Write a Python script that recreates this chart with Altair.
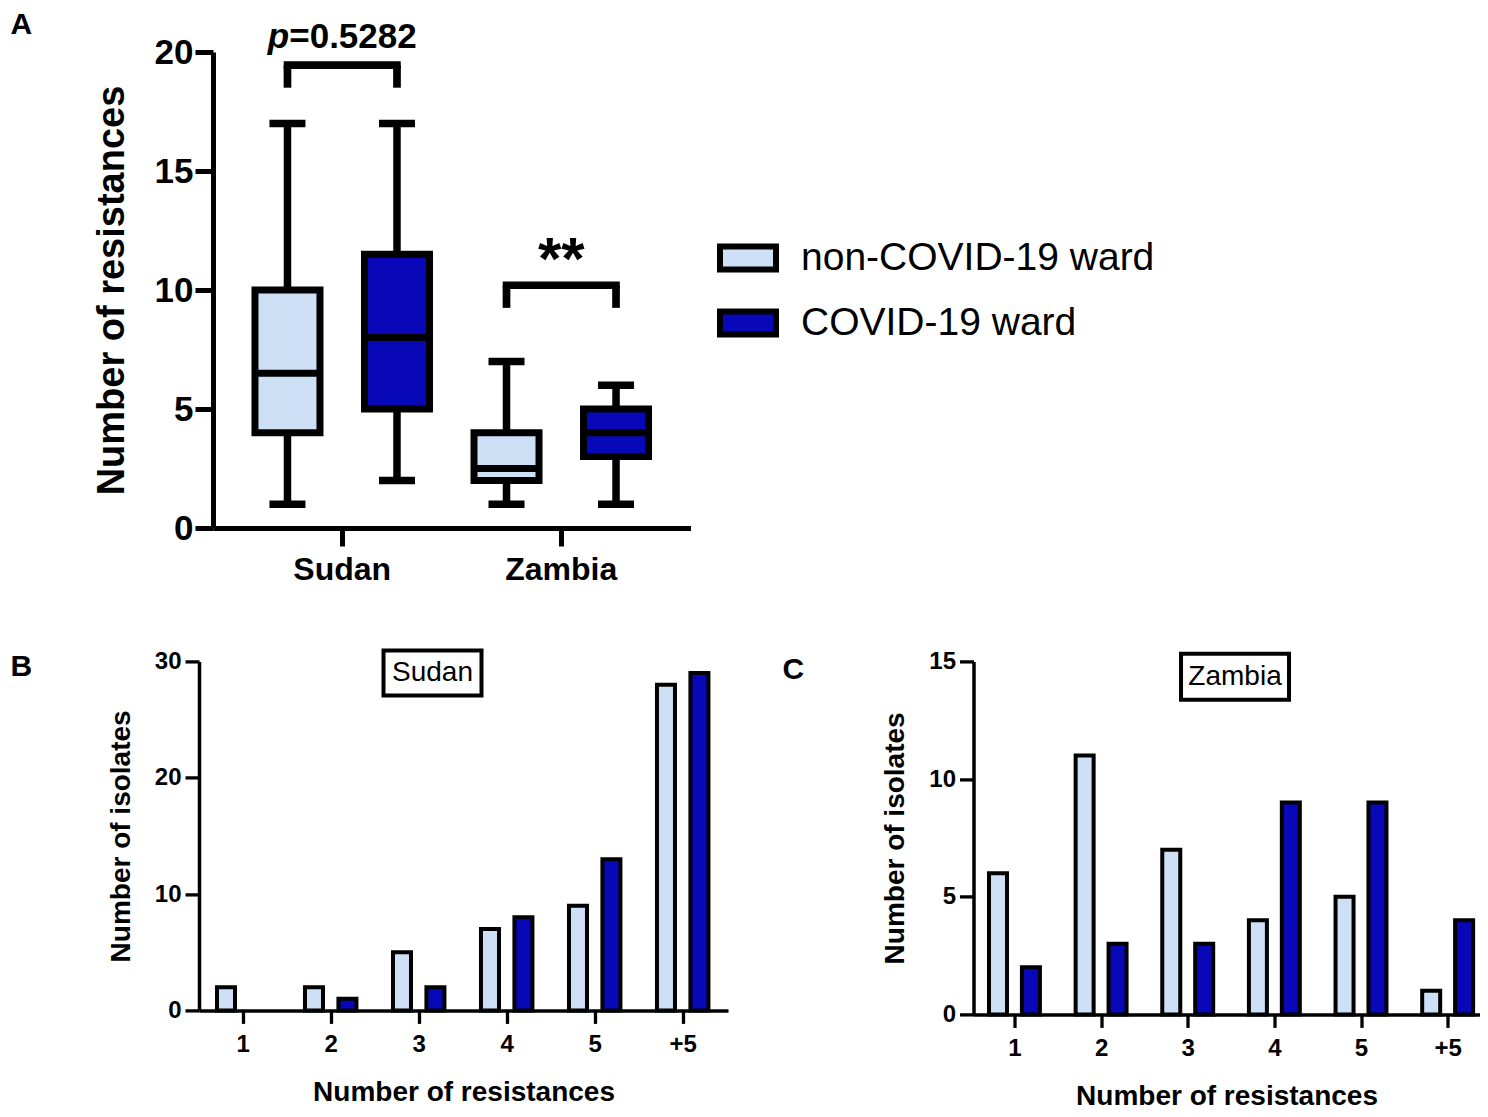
import json
import altair as alt
import pandas as pd

FONT = "Liberation Sans"
groups = ["non-COVID-19 ward", "COVID-19 ward"]
group_colors = ["#cde0f6", "#0808b8"]

# ---------------- Panel A: box summaries ----------------
countries = ["Sudan", "Sudan", "Zambia", "Zambia"]
wards = ["non-COVID-19 ward", "COVID-19 ward", "non-COVID-19 ward", "COVID-19 ward"]
box_min = [1, 2, 1, 1]
box_q1 = [4, 5, 2, 3]
box_median = [6.5, 8, 2.5, 4]
box_q3 = [10, 11.5, 4, 5]
box_max = [17, 17, 7, 6]

# significance brackets
sig_country = ["Sudan", "Zambia"]
sig_low = [18.5, 9.25]
sig_high = [19.45, 10.2]
p_parts = ["p", "=0.5282"]
star_label = ["**"]

# ---------------- Panels B / C ----------------
res_cats = ["1", "2", "3", "4", "5", "+5"]
sudan_non = [2, 2, 5, 7, 9, 28]
sudan_covid = [0, 1, 2, 8, 13, 29]
zambia_non = [6, 11, 7, 4, 5, 1]
zambia_covid = [2, 3, 3, 9, 9, 4]

# ---------------- tables ----------------
box_df = pd.DataFrame(dict(country=countries, ward=wards, lo=box_min, q1=box_q1,
                           med=box_median, q3=box_q3, hi=box_max))
leg_df = pd.DataFrame(dict(
    country=[c for c in sig_country for _ in groups],
    ward=[g for _ in sig_country for g in groups],
    low=[l for l in sig_low for _ in groups],
    high=[h for h in sig_high for _ in groups],
))
bridge_df = pd.DataFrame(dict(country=sig_country, high=sig_high))
p_df = pd.DataFrame(dict(country=["Sudan"], y=[20.15], p=[p_parts[0]], rest=[p_parts[1]]))
star_df = pd.DataFrame(dict(country=["Zambia"], y=[10.45], lab=star_label))

color_scale = alt.Scale(domain=groups, range=group_colors)

axA_x = alt.Axis(title=None, labelAngle=0, labelFont=FONT, labelFontSize=32, labelFontWeight="bold",
                 labelColor="black", labelPadding=8, domainColor="black", domainWidth=5,
                 tickColor="black", tickWidth=5, tickSize=18)
axA_y = alt.Axis(title="Number of resistances", values=[0, 5, 10, 15, 20], offset=-14, grid=False,
                 labelFont=FONT, labelFontSize=35, labelFontWeight="bold", labelColor="black",
                 labelPadding=2, tickSize=18, tickWidth=5, tickColor="black",
                 domainWidth=5, domainColor="black", titleFont=FONT, titleFontSize=38,
                 titleFontWeight="bold", titleColor="black", titlePadding=23)

xA = alt.X("country:N", scale=alt.Scale(domain=["Sudan", "Zambia"], paddingInner=0,
                                         paddingOuter=0.09, rangeMin=14), axis=axA_x)
xoA = alt.XOffset("ward:N", scale=alt.Scale(domain=groups, paddingInner=0, paddingOuter=0))
ysA = alt.Scale(domain=[0, 20], nice=False)


def yA(field):
    return alt.Y(field, scale=ysA, axis=axA_y)


whisk = alt.Chart(box_df).mark_rule(color="black", strokeWidth=7.5).encode(
    x=xA, xOffset=xoA, y=yA("lo:Q"), y2="hi:Q")
boxes = alt.Chart(box_df).mark_bar(width=65, stroke="black", strokeWidth=7).encode(
    x=xA, xOffset=xoA, y=yA("q1:Q"), y2="q3:Q",
    color=alt.Color("ward:N", scale=color_scale, legend=alt.Legend(
        title=None, orient="none", legendX=518, legendY=175,
        symbolType="M-1,-0.41H1V0.41H-1Z", symbolSize=3136, symbolStrokeColor="black",
        symbolStrokeWidth=6, symbolOpacity=1, labelFont=FONT, labelFontSize=39,
        labelColor="black", labelOffset=22, labelLimit=0, rowPadding=10, padding=0)))
med = alt.Chart(box_df).mark_tick(orient="horizontal", size=65, thickness=7, color="black",
                                  opacity=1).encode(x=xA, xOffset=xoA, y=yA("med:Q"))
cap_lo = alt.Chart(box_df).mark_tick(orient="horizontal", size=36, thickness=7.5, color="black",
                                     opacity=1).encode(x=xA, xOffset=xoA, y=yA("lo:Q"))
cap_hi = alt.Chart(box_df).mark_tick(orient="horizontal", size=36, thickness=7.5, color="black",
                                     opacity=1).encode(x=xA, xOffset=xoA, y=yA("hi:Q"))
legs = alt.Chart(leg_df).mark_rule(color="black", strokeWidth=7.7).encode(
    x=xA, xOffset=xoA, y=yA("low:Q"), y2="high:Q")
bridge = alt.Chart(bridge_df).mark_tick(orient="horizontal", size=117, thickness=7.7,
                                        color="black", opacity=1).encode(x=xA, y=yA("high:Q"))
p_it = alt.Chart(p_df).mark_text(font=FONT, fontSize=35, fontWeight="bold", fontStyle="italic",
                                 align="right", baseline="alphabetic", dx=-53, color="black").encode(
    x=xA, y=yA("y:Q"), text="p:N")
p_rest = alt.Chart(p_df).mark_text(font=FONT, fontSize=35, fontWeight="bold", align="left",
                                   baseline="alphabetic", dx=-53, color="black").encode(
    x=xA, y=yA("y:Q"), text="rest:N")
stars = alt.Chart(star_df).mark_text(font=FONT, fontSize=60, fontWeight="bold",
                                     baseline="alphabetic", color="black").encode(
    x=xA, y=yA("y:Q"), text="lab:N")

panelA = alt.layer(whisk, boxes, med, cap_lo, cap_hi, legs, bridge, p_it, p_rest, stars).properties(
    width=491.5, height=476,
    title=alt.TitleParams("A", anchor="start", frame="group", dx=-188.5, dy=44, offset=0,
                          baseline="alphabetic", fontSize=30, font=FONT, fontWeight="bold",
                          color="black"))

CATS = json.dumps(res_cats)


def bar_panel(letter, non, cov, ymax, yvals, width, height, x_dom, half_gap, lab_text, lab_cat,
              lab_y, lab_shift, box_path, box_size, title_dx, title_dy):
    df = pd.DataFrame(dict(res=res_cats * 2,
                           ward=[groups[0]] * len(res_cats) + [groups[1]] * len(res_cats),
                           n=non + cov))
    ax_x = alt.Axis(title="Number of resistances", values=list(range(1, len(res_cats) + 1)),
                    labelExpr=f"{CATS}[datum.value - 1]", grid=False,
                    labelAngle=0, labelFont=FONT, labelFontSize=24,
                    labelFontWeight="bold", labelColor="black", labelPadding=9, tickSize=13,
                    tickWidth=3.3, tickColor="black", domainWidth=3.5, domainColor="black",
                    titleFont=FONT, titleFontSize=28, titleFontWeight="bold", titleColor="black",
                    titlePadding=22)
    ax_y = alt.Axis(title="Number of isolates", values=yvals, grid=False, tickSize=14,
                    tickWidth=3.3, tickColor="black", domainWidth=3.5, domainColor="black",
                    labelFont=FONT, labelFontSize=24, labelFontWeight="bold", labelColor="black",
                    labelPadding=4, titleFont=FONT, titleFontSize=28, titleFontWeight="bold",
                    titleColor="black", titlePadding=19)
    xs = alt.Scale(domain=x_dom, nice=False, zero=False)
    ys = alt.Scale(domain=[0, ymax], nice=False)
    bars = alt.Chart(df).transform_filter("datum.n > 0").transform_calculate(
        pos=f"indexof({CATS}, datum.res) + 1 + (datum.ward == '{groups[0]}' ? -{half_gap} : {half_gap})"
    ).mark_bar(width=18, stroke="black", strokeWidth=4).encode(
        x=alt.X("pos:Q", scale=xs, axis=ax_x),
        y=alt.Y("n:Q", scale=ys, axis=ax_y),
        color=alt.Color("ward:N", scale=color_scale, legend=None))
    lab_df = pd.DataFrame(dict(res=[lab_cat], y=[lab_y], lab=[lab_text]))
    lab_base = alt.Chart(lab_df).transform_calculate(pos=f"indexof({CATS}, datum.res) + 1")
    frame = lab_base.mark_point(shape=box_path, size=box_size, filled=True, fill="white",
                                stroke="black", strokeWidth=4, opacity=1,
                                xOffset=lab_shift).encode(
        x=alt.X("pos:Q", scale=xs, axis=ax_x), y=alt.Y("y:Q", scale=ys, axis=ax_y))
    txt = lab_base.mark_text(font=FONT, fontSize=28, color="black", dx=lab_shift).encode(
        x=alt.X("pos:Q", scale=xs, axis=ax_x), y=alt.Y("y:Q", scale=ys, axis=ax_y),
        text="lab:N")
    return alt.layer(bars, frame, txt).properties(
        width=width, height=height,
        title=alt.TitleParams(letter, anchor="start", frame="group", dx=title_dx, dy=title_dy,
                              offset=0, baseline="alphabetic", fontSize=30, font=FONT,
                              fontWeight="bold", color="black"))


panelB = bar_panel("B", sudan_non, sudan_covid, 30, [0, 10, 20, 30], 529, 349, [0.56, 6.458],
                   0.19, "Sudan", "3", 29.0, 13.8, "M-1,-0.459H1V0.459H-1Z", 9604, -188.5, 63)
panelC = bar_panel("C", zambia_non, zambia_covid, 15, [0, 5, 10, 15], 506, 353, [0.585, 6.31],
                   0.19, "Zambia", "3", 14.35, 47.3, "M-1,-0.426H1V0.426H-1Z", 11664, -191, 63)

bottom = alt.hconcat(panelB, panelC, spacing=54.5)

chart = alt.vconcat(panelA, bottom, spacing=57.4).resolve_scale(color="independent").resolve_legend(
    color="independent").properties(
    padding={"left": 2, "top": 2, "right": 0, "bottom": 0}).configure_view(stroke=None)

chart.save("out.html", embed_options={"renderer": "svg", "actions": False})
